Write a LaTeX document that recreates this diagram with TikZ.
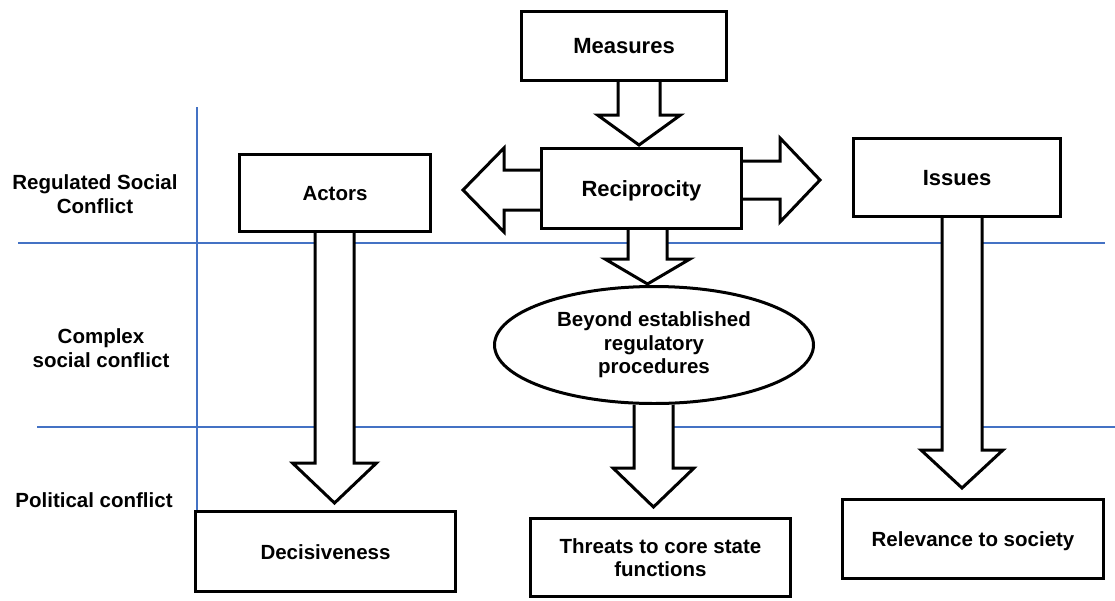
\documentclass[tikz,border=0pt]{standalone}
\usepackage{fontspec}
\setmainfont{Liberation Sans}
\usetikzlibrary{shapes.geometric,calc}
\definecolor{gridblue}{RGB}{68,114,196}
\newcommand\bdown[7]{% #1 from, #2 to, #3 x, #4 gap, #5 shaft hw, #6 head hw, #7 head len
  \draw[barrow] let \p1=(#1.south), \p2=(#2.north) in
    (#3pt-#5pt,\y1) -- (#3pt-#5pt,\y2+#4pt+#7pt) -- (#3pt-#6pt,\y2+#4pt+#7pt)
    -- (#3pt,\y2+#4pt) -- (#3pt+#6pt,\y2+#4pt+#7pt) -- (#3pt+#5pt,\y2+#4pt+#7pt)
    -- (#3pt+#5pt,\y1);}
\newcommand\bside[6]{% #1 from node anchor, #2 tip coordinate, #3 shaft hw, #4 head hw, #5 head len (signed), #6 unused
  \draw[barrow] let \p1=(#1), \p2=(#2) in
    (\x1,\y2+#3pt) -- (\x2+#5pt,\y2+#3pt) -- (\x2+#5pt,\y2+#4pt) -- (\p2)
    -- (\x2+#5pt,\y2-#4pt) -- (\x2+#5pt,\y2-#3pt) -- (\x1,\y2-#3pt);}
\tikzset{
  box/.style={draw, line width=3pt, fill=white, inner sep=0pt, align=center,
    font=\bfseries\fontsize{20.5}{23.5}\selectfont},
  big/.style={font=\bfseries\fontsize{22}{24}\selectfont},
  oneline/.style={text height=15pt, text depth=0pt},
  lab/.style={align=center, inner sep=0pt, font=\bfseries\fontsize{20.5}{23.5}\selectfont},
  barrow/.style={draw, fill=white, line width=3pt, line join=miter},
  gridline/.style={draw=gridblue, line width=1.3pt}
}
\begin{document}
\begin{tikzpicture}[x=1pt,y=-1pt]
\useasboundingbox (0,0) rectangle (1115,600);
% grid lines
\draw[gridline] (197,107) -- (197,510);
\draw[gridline] (18,243) -- (1105,243);
\draw[gridline] (37,427) -- (1115,427);
% row labels
\node[lab] (l1) at (95,194) {Regulated Social\\Conflict};
\node[lab] (l2) at (101,348) {Complex\\social conflict};
\node[lab] (l3) at (94,500.5) {Political conflict};
% nodes
\node[box,big,oneline,minimum width=205,minimum height=69] (meas) at (624,46) {Measures};
\node[box,big,oneline,minimum width=200,minimum height=80] (rec) at (641.5,188.5) {Reciprocity};
\node[box,oneline,minimum width=191,minimum height=77] (act) at (335,193) {Actors};
\node[box,big,oneline,minimum width=207,minimum height=78] (iss) at (957,177.5) {Issues};
\node[box,ellipse,minimum width=319,minimum height=117] (ell) at (654,345) {Beyond established\\regulatory\\procedures};
\node[box,oneline,minimum width=260,minimum height=80] (dec) at (325.5,551.5) {Decisiveness};
\node[box,minimum width=260,minimum height=78] (thr) at (660.5,557.5) {Threats to core state\\functions};
\node[box,oneline,minimum width=261,minimum height=79] (rel) at (973,539) {Relevance to society};
% free ends of side arrows
\coordinate (ltip) at (463,190);
\coordinate (rtip) at (820,180);
% block arrows
\bdown{meas}{rec}{639}{2}{21}{41.5}{30}
\bdown{rec}{ell}{647.5}{1}{19.5}{42.5}{25}
\bdown{ell}{thr}{653.5}{10}{19.5}{40.5}{39}
\bdown{act}{dec}{334.5}{7}{19.5}{42}{40}
\bdown{iss}{rel}{962}{10}{20}{41}{38}
\bside{rec.west}{ltip}{20}{42}{41}{}
\bside{rec.east}{rtip}{19}{42}{-40}{}
\end{tikzpicture}
\end{document}
